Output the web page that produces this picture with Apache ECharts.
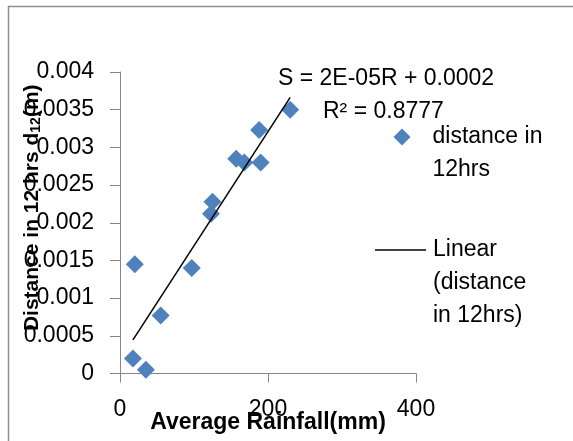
<!DOCTYPE html>
<html>
<head>
<meta charset="utf-8">
<script src="https://cdn.jsdelivr.net/npm/echarts@6/dist/echarts.min.js"></script>
<style>
  html, body { margin: 0; padding: 0; background: #fff; }
  #chart { width: 573px; height: 441px; }
</style>
</head>
<body>
<div id="chart"></div>
<script>
// rainfall (mm) and distance moved in 12 hrs (m)
const rainfall = [17.5, 20, 35, 55, 97, 123, 125, 157, 168, 190, 188, 230];
const distance = [0.0002, 0.00145, 0.00005, 0.00077, 0.0014, 0.00212, 0.00228, 0.00285, 0.0028, 0.0028, 0.00323, 0.0035];
const equationText = 'S = 2E-05R + 0.0002';
const r2Text = 'R² = 0.8777';

const font = '"Liberation Sans", Arial, sans-serif';

// least squares trend line, drawn from smallest to largest rainfall
const n = rainfall.length;
const mx = rainfall.reduce((a, b) => a + b, 0) / n;
const my = distance.reduce((a, b) => a + b, 0) / n;
let sxy = 0, sxx = 0;
for (let i = 0; i < n; i++) {
  sxy += (rainfall[i] - mx) * (distance[i] - my);
  sxx += (rainfall[i] - mx) * (rainfall[i] - mx);
}
const slope = sxy / sxx;
const intercept = my - slope * mx;
const xMin = Math.min(...rainfall), xMax = Math.max(...rainfall);
const trend = [[xMin, intercept + slope * xMin], [xMax, intercept + slope * xMax]];

const points = rainfall.map((r, i) => [r, distance[i]]);

const chart = echarts.init(document.getElementById('chart'));
chart.setOption({
  animation: false,
  textStyle: { fontFamily: font },
  grid: { left: 120, right: 157, top: 72, bottom: 67.5, outerBoundsMode: 'none', containLabel: false },
  xAxis: {
    type: 'value',
    min: 0, max: 400, interval: 200,
    name: 'Average Rainfall(mm)',
    nameLocation: 'middle',
    nameGap: 38,
    nameMoveOverlap: false,
    nameTextStyle: { fontSize: 23, fontWeight: 'bold', color: '#000', fontFamily: font },
    splitLine: { show: false },
    axisLine: { lineStyle: { color: '#868686' } },
    axisTick: { show: true, length: 9, lineStyle: { color: '#868686' } },
    axisLabel: { fontSize: 23, color: '#000', margin: 25, fontFamily: font }
  },
  yAxis: {
    type: 'value',
    min: 0, max: 0.004, interval: 0.0005,
    name: 'Distance in 12 hrs d{sub|12}(m)',
    nameLocation: 'middle',
    nameRotate: 90,
    nameGap: 77,
    nameMoveOverlap: false,
    nameTextStyle: {
      fontSize: 21, fontWeight: 'bold', color: '#000', fontFamily: font,
      padding: [0, 0, 0, 30],
      rich: { sub: { fontSize: 14, fontWeight: 'bold', verticalAlign: 'bottom', color: '#000', fontFamily: font } }
    },
    splitLine: { show: false },
    axisLine: { show: true, lineStyle: { color: '#868686' } },
    axisTick: { show: true, length: 10, lineStyle: { color: '#868686' } },
    axisLabel: {
      fontSize: 23, color: '#000', margin: 26, fontFamily: font,
      formatter: v => String(+v.toFixed(4))
    }
  },
  legend: [
    {
      data: ['distance in 12hrs'],
      left: 393.5, top: 87.5, padding: 0,
      itemWidth: 17, itemHeight: 17,
      // blank first line keeps the icon level with the first text line
      formatter: () => '\ndistance in\n12hrs',
      textStyle: { fontSize: 23, lineHeight: 33, color: '#000', padding: [0, 0, 0, 17], fontFamily: font }
    },
    {
      data: [{ name: 'Linear (distance in 12hrs)', icon: 'rect' }],
      left: 375, top: 167.5, padding: 0,
      itemWidth: 51, itemHeight: 1.5,
      itemStyle: { color: '#000' },
      formatter: () => '\n\nLinear\n(distance\nin 12hrs)',
      textStyle: { fontSize: 23, lineHeight: 33, color: '#000', padding: [0, 0, 0, 2], fontFamily: font }
    }
  ],
  graphic: [
    {
      type: 'rect', silent: true, z: -1,
      shape: { x: 8.5, y: 6.5, width: 700, height: 600 },
      style: { fill: 'none', stroke: '#8e8e8e', lineWidth: 1.5 }
    },
    {
      type: 'text', left: 278, top: 67,
      style: { text: equationText, font: '23px ' + font, fill: '#000' }
    },
    {
      type: 'text', left: 323, top: 100,
      style: { text: r2Text, font: '23px ' + font, fill: '#000' }
    }
  ],
  series: [
    {
      name: 'distance in 12hrs',
      type: 'scatter',
      symbol: 'diamond',
      symbolSize: 18,
      itemStyle: { color: '#4F81BD', opacity: 1 },
      data: points,
      z: 2
    },
    {
      name: 'Linear (distance in 12hrs)',
      type: 'line',
      symbol: 'none',
      lineStyle: { color: '#000', width: 1.5 },
      itemStyle: { color: '#000' },
      data: trend,
      z: 3
    }
  ]
});
</script>
</body>
</html>
